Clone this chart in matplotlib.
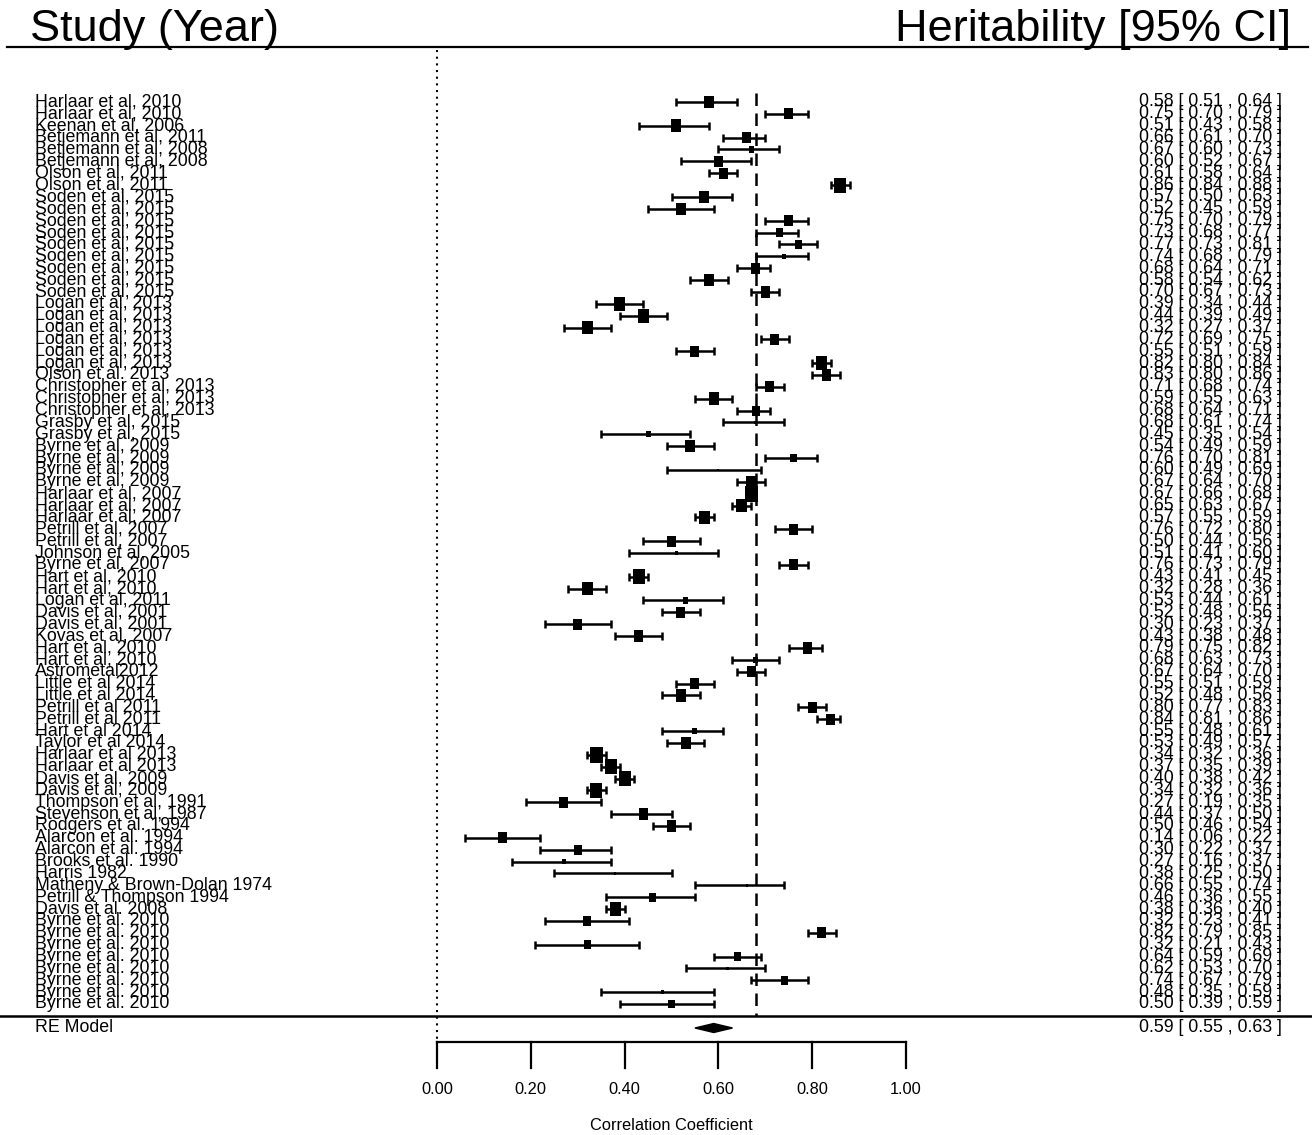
#%%
import numpy as np
import matplotlib
matplotlib.use("Agg")
import matplotlib.pyplot as plt
from matplotlib.patches import Polygon

plt.rcParams['font.family'] = ['Liberation Sans', 'DejaVu Sans']
#%%
## study labels, estimates and 95% CI
studies = [
    "Harlaar et al, 2010", "Harlaar et al, 2010", "Keenan et al, 2006",
    "Betjemann et al, 2011", "Betjemann et al, 2008", "Betjemann et al, 2008",
    "Olson et al, 2011", "Olson et al, 2011",
    "Soden et al, 2015", "Soden et al, 2015", "Soden et al, 2015", "Soden et al, 2015",
    "Soden et al, 2015", "Soden et al, 2015", "Soden et al, 2015", "Soden et al, 2015",
    "Soden et al, 2015",
    "Logan et al, 2013", "Logan et al, 2013", "Logan et al, 2013", "Logan et al, 2013",
    "Logan et al, 2013", "Logan et al, 2013", "Olson et al. 2013",
    "Christopher et al, 2013", "Christopher et al, 2013", "Christopher et al, 2013",
    "Grasby et al, 2015", "Grasby et al, 2015",
    "Byrne et al, 2009", "Byrne et al, 2009", "Byrne et al, 2009", "Byrne et al, 2009",
    "Harlaar et al, 2007", "Harlaar et al, 2007", "Harlaar et al, 2007",
    "Petrill et al, 2007", "Petrill et al, 2007", "Johnson et al, 2005",
    "Byrne et al, 2007", "Hart et al, 2010", "Hart et al, 2010", "Logan et al, 2011",
    "Davis et al, 2001", "Davis et al, 2001", "Kovas et al, 2007",
    "Hart et al, 2010", "Hart et al, 2010", "Astrometal2012",
    "Little et al 2014", "Little et al 2014", "Petrill et al 2011", "Petrill et al 2011",
    "Hart et al 2014", "Taylor et al 2014", "Harlaar et al 2013", "Harlaar et al 2013",
    "Davis et al, 2009", "Davis et al, 2009", "Thompson et al, 1991",
    "Stevenson et al, 1987", "Rodgers et al. 1994", "Alarcon et al. 1994",
    "Alarcon et al. 1994", "Brooks et al. 1990", "Harris 1982",
    "Matheny & Brown-Dolan 1974", "Petrill & Thompson 1994", "Davis et al. 2008",
    "Byrne et al. 2010", "Byrne et al. 2010", "Byrne et al. 2010", "Byrne et al. 2010",
    "Byrne et al. 2010", "Byrne et al. 2010", "Byrne et al. 2010", "Byrne et al. 2010",
]
est = [
    0.58, 0.75, 0.51, 0.66, 0.67, 0.60, 0.61, 0.86,
    0.57, 0.52, 0.75, 0.73, 0.77, 0.74, 0.68, 0.58, 0.70,
    0.39, 0.44, 0.32, 0.72, 0.55, 0.82, 0.83,
    0.71, 0.59, 0.68, 0.68, 0.45,
    0.54, 0.76, 0.60, 0.67, 0.67, 0.65, 0.57,
    0.76, 0.50, 0.51, 0.76, 0.43, 0.32, 0.53,
    0.52, 0.30, 0.43, 0.79, 0.68, 0.67,
    0.55, 0.52, 0.80, 0.84, 0.55, 0.53, 0.34, 0.37,
    0.40, 0.34, 0.27, 0.44, 0.50, 0.14, 0.30, 0.27, 0.38,
    0.66, 0.46, 0.38,
    0.32, 0.82, 0.32, 0.64, 0.62, 0.74, 0.48, 0.50,
]
ci_lo = [
    0.51, 0.70, 0.43, 0.61, 0.60, 0.52, 0.58, 0.84,
    0.50, 0.45, 0.70, 0.68, 0.73, 0.68, 0.64, 0.54, 0.67,
    0.34, 0.39, 0.27, 0.69, 0.51, 0.80, 0.80,
    0.68, 0.55, 0.64, 0.61, 0.35,
    0.49, 0.70, 0.49, 0.64, 0.66, 0.63, 0.55,
    0.72, 0.44, 0.41, 0.73, 0.41, 0.28, 0.44,
    0.48, 0.23, 0.38, 0.75, 0.63, 0.64,
    0.51, 0.48, 0.77, 0.81, 0.48, 0.49, 0.32, 0.35,
    0.38, 0.32, 0.19, 0.37, 0.46, 0.06, 0.22, 0.16, 0.25,
    0.55, 0.36, 0.36,
    0.23, 0.79, 0.21, 0.59, 0.53, 0.67, 0.35, 0.39,
]
ci_hi = [
    0.64, 0.79, 0.58, 0.70, 0.73, 0.67, 0.64, 0.88,
    0.63, 0.59, 0.79, 0.77, 0.81, 0.79, 0.71, 0.62, 0.73,
    0.44, 0.49, 0.37, 0.75, 0.59, 0.84, 0.86,
    0.74, 0.63, 0.71, 0.74, 0.54,
    0.59, 0.81, 0.69, 0.70, 0.68, 0.67, 0.59,
    0.80, 0.56, 0.60, 0.79, 0.45, 0.36, 0.61,
    0.56, 0.37, 0.48, 0.82, 0.73, 0.70,
    0.59, 0.56, 0.83, 0.86, 0.61, 0.57, 0.36, 0.39,
    0.42, 0.36, 0.35, 0.50, 0.54, 0.22, 0.37, 0.37, 0.50,
    0.74, 0.55, 0.40,
    0.41, 0.85, 0.43, 0.69, 0.70, 0.79, 0.59, 0.59,
]
## relative study weight (square size) as seen in the figure
weight = [
    10, 9, 10, 9, 5, 9, 9, 12,
    10, 10, 9, 7, 7, 4, 9, 10, 9,
    11, 11, 11, 9, 9, 11, 9,
    9, 10, 8, 3, 5,
    10, 7, 2, 10, 13, 11, 11,
    9, 9, 3, 9, 12, 11, 5,
    9, 9, 9, 9, 5, 9,
    9, 10, 9, 9, 5, 10, 13, 12,
    12, 12, 9, 9, 9, 9, 8, 4, 2,
    2, 7, 11,
    8, 9, 7, 7, 3, 7, 3, 7,
]
## random effects summary
re_est, re_lo, re_hi = 0.59, 0.55, 0.63
ref_line = 0.68
xticks = [0.0, 0.2, 0.4, 0.6, 0.8, 1.0]
#%%
## canvas in pixel units vertically, correlation units horizontally
W, H = 1312, 1135
X0, X1 = 437, 906   # pixel position of 0 and 1
sc = X1 - X0
fig = plt.figure(figsize=(W / 100, H / 100), dpi=100)
ax = fig.add_axes([0, 0, 1, 1])
ax.set_xlim(-X0 / sc, (W - X0) / sc)
ax.set_ylim(H, 0)
ax.axis('off')

def px(x):
    ## pixel x -> data x
    return (x - X0) / sc

n = len(studies)
ys = 102 + np.arange(n) * (1004 - 102) / (n - 1)
est = np.array(est)
lo = np.array(ci_lo)
hi = np.array(ci_hi)

## header
ax.text(px(30), 41, "Study (Year)", fontsize=32.5, ha='left', va='baseline')
ax.text(px(1291), 41, "Heritability [95% CI]", fontsize=32.5, ha='right', va='baseline')
ax.plot([px(7), px(1308)], [47, 47], color='k', lw=1.6)
ax.plot([px(0), px(1312)], [1016, 1016], color='k', lw=1.8)

## reference lines
ax.plot([0, 0], [50, 1042], color='k', lw=1.5, ls=(0, (1, 2.2)))
ax.plot([ref_line, ref_line], [93, 1016], color='k', lw=1.8, ls=(0, (5, 3)))

## CIs and squares (a bit taller than wide, like the original)
ax.errorbar(est, ys, xerr=[est - lo, hi - est], fmt='none', ecolor='k',
            elinewidth=1.8, capsize=3, capthick=1.8, zorder=3)
box = [(-0.8, -1), (0.8, -1), (0.8, 1), (-0.8, 1), (-0.8, -1)]
side = np.array(weight) * 1.25
ax.scatter(est, ys, s=(side * 0.72) ** 2, marker=box, color='k', zorder=4, linewidths=0)

## labels and values
for i in range(n):
    ax.text(px(35), ys[i], studies[i], fontsize=12.8, ha='left', va='center')
    ax.text(px(1282), ys[i], "%.2f [ %.2f , %.2f ]" % (est[i], lo[i], hi[i]),
            fontsize=12.8, ha='right', va='center')

## RE model
y_re = 1028
ax.text(px(35), y_re, "RE Model", fontsize=12.8, ha='left', va='center')
ax.add_patch(Polygon([[re_lo, y_re], [re_est, y_re - 4.5], [re_hi, y_re], [re_est, y_re + 4.5]],
                     closed=True, color='k', zorder=4))
ax.text(px(1282), y_re, "%.2f [ %.2f , %.2f ]" % (re_est, re_lo, re_hi),
        fontsize=12.8, ha='right', va='center')

## x axis
ax.plot([xticks[0], xticks[-1]], [1042, 1042], color='k', lw=1.6)
for t in xticks:
    ax.plot([t, t], [1042, 1068], color='k', lw=1.6)
    ax.text(t, 1089, "%.2f" % t, fontsize=11.8, ha='center', va='center')
ax.text(0.5, 1126, "Correlation Coefficient", fontsize=11.8, ha='center', va='center')

plt.savefig("out.png", dpi=100)
